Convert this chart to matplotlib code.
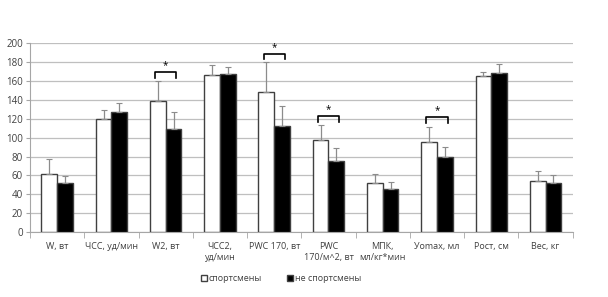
import matplotlib
matplotlib.use("Agg")
import matplotlib.pyplot as plt
import numpy as np

plt.rcParams['font.family'] = ['Open Sans', 'DejaVu Sans']

categories = ["W, вт", "ЧСС, уд/мин", "W2, вт", "ЧСС2,\nуд/мин", "PWC 170, вт",
              "PWC\n170/м^2, вт", "МПК,\nмл/кг*мин", "Уomax, мл", "Рост, см", "Вес, кг"]
athletes = [62, 120, 139, 166, 148, 97, 52, 95, 165, 54]
athletes_err = [15, 9, 21, 11, 32, 16, 9.5, 16, 5, 10.5]
non_athletes = [52, 127, 109, 167, 112, 75, 46, 79, 168, 52]
non_athletes_err = [7, 10, 18, 8, 22, 14.5, 7, 11, 10, 8.5]
# significance brackets: category index, bracket top value
sig_idx = [2, 4, 5, 7]
sig_top = [169.5, 189, 123, 122]
ylim_max = 200

fig = plt.figure(figsize=(6.08, 2.97), dpi=100)
ax = fig.add_axes([30/608, 1-232/297, (572.7-30)/608, (232-43.3)/297])

x = np.arange(len(categories))
w = 0.29
err_kw = dict(ecolor='#8c8c8c', elinewidth=0.9, capsize=2.0, capthick=0.8)
zeros = np.zeros(len(categories))
ax.bar(x - w/2, athletes, w, color='white', edgecolor='#404040', linewidth=1.0,
       yerr=[zeros, athletes_err], error_kw=err_kw, label='спортсмены', zorder=3)
ax.bar(x + w/2, non_athletes, w, color='black', edgecolor='#404040', linewidth=1.0,
       yerr=[zeros, non_athletes_err], error_kw=err_kw, label='не спортсмены', zorder=3)

for i, top in zip(sig_idx, sig_top):
    x0 = i - w/2 - 0.05
    x1 = i + w/2 + 0.05
    ax.plot([x0, x0, x1, x1], [top - 6, top, top, top - 6], color='black', lw=1.2, zorder=4)
    ax.text(i, top + 1, '*', ha='center', va='bottom', fontsize=7)

ax.set_ylim(0, ylim_max)
ax.set_xlim(-0.5, len(categories) - 0.5)
ax.set_yticks(np.arange(0, 201, 20))
ax.yaxis.grid(True, color='#bfbfbf', linewidth=0.9, zorder=0)
ax.set_axisbelow(True)
for s in ['top', 'right']:
    ax.spines[s].set_visible(False)
ax.spines['left'].set_color('#a6a6a6')
ax.spines['bottom'].set_color('#a6a6a6')
ax.tick_params(axis='y', labelsize=7, colors='#404040', length=3, color='#a6a6a6', pad=2)
ax.set_xticks(x)
ax.set_xticklabels(categories, fontsize=6.5, color='#404040', linespacing=1.3)
ax.tick_params(axis='x', length=0, pad=7)
ax.set_xticks(np.arange(-0.5, len(categories), 1.0), minor=True)
ax.tick_params(axis='x', which='minor', length=4, color='#a6a6a6')

leg = fig.legend(loc='lower center', bbox_to_anchor=(0.462, 0.02), ncol=2, frameon=False,
                 fontsize=6.5, handlelength=0.65, handleheight=0.65, handletextpad=0.2,
                 columnspacing=2.8)
for t in leg.get_texts():
    t.set_color('#404040')

fig.savefig('out.png', dpi=100)
